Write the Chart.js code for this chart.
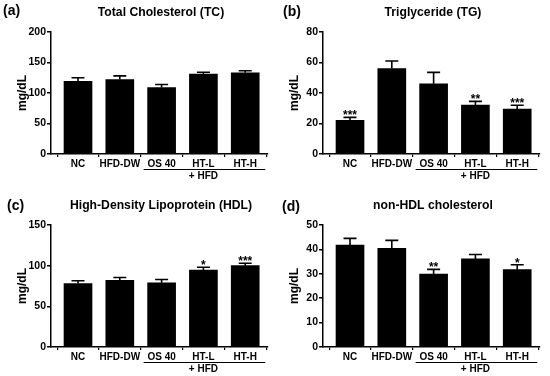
<!DOCTYPE html>
<html>
<head>
<meta charset="utf-8">
<script src="https://cdn.jsdelivr.net/npm/chart.js@4.4.1/dist/chart.umd.min.js"></script>
<style>
  body { margin: 0; background: #fff; }
  #wrap { position: relative; width: 550px; height: 376px; }
  canvas { position: absolute; }
</style>
</head>
<body>
<div id="wrap">
  <canvas id="tc" width="272" height="193" style="left:0;top:0"></canvas>
  <canvas id="tg" width="272" height="193" style="left:272px;top:0"></canvas>
  <canvas id="hdl" width="272" height="193" style="left:0;top:193px"></canvas>
  <canvas id="nonhdl" width="272" height="193" style="left:272px;top:193px"></canvas>
</div>
<script>
var categories = ["NC", "HFD-DW", "OS 40", "HT-L", "HT-H"];
var groupLabel = "+ HFD";

var tcMean = [119, 122, 109, 131, 133];
var tcErr = [6, 6, 5, 3, 3.5];
var tcStars = ["", "", "", "", ""];
var tcTicks = [0, 50, 100, 150, 200];

var tgMean = [22, 56, 46, 32, 29.5];
var tgErr = [2, 5, 7.5, 2.5, 2.5];
var tgStars = ["***", "", "", "**", "***"];
var tgTicks = [0, 20, 40, 60, 80];

var hdlMean = [78, 82, 79, 94.5, 100];
var hdlErr = [3.5, 3.5, 4, 3.5, 3];
var hdlStars = ["", "", "", "*", "***"];
var hdlTicks = [0, 50, 100, 150];

var nonHdlMean = [41.8, 40.4, 29.9, 36.1, 31.7];
var nonHdlErr = [2.7, 3.3, 1.9, 1.8, 2.0];
var nonHdlStars = ["", "", "**", "", "*"];
var nonHdlTicks = [0, 10, 20, 30, 40, 50];

var FONT = '"Liberation Sans", Arial, sans-serif';

// error bars, stars, titles, "+ HFD" bracket
var extras = {
  id: 'extras',
  afterDatasetsDraw: function(chart) {
    var p = chart.options.plugins.extras;
    var ctx = chart.ctx, x = chart.scales.x, y = chart.scales.y;
    ctx.save();
    ctx.strokeStyle = '#000';
    ctx.fillStyle = '#000';
    ctx.lineWidth = 1.6;

    p.mean.forEach(function(m, i) {
      var cx = x.getPixelForValue(i);
      var top = y.getPixelForValue(m + p.err[i]);
      var base = y.getPixelForValue(m);
      ctx.beginPath();
      ctx.moveTo(cx, base);
      ctx.lineTo(cx, top);
      ctx.moveTo(cx - 6.5, top);
      ctx.lineTo(cx + 6.5, top);
      ctx.stroke();
      if (p.stars[i]) {
        ctx.font = 'bold 12px ' + FONT;
        ctx.textAlign = 'center';
        ctx.textBaseline = 'alphabetic';
        ctx.fillText(p.stars[i], cx, top + 2);
      }
    });

    ctx.textBaseline = 'middle';
    ctx.font = 'bold 14px ' + FONT;
    ctx.textAlign = 'left';
    ctx.fillText(p.letter, p.letterX, p.letterY);
    ctx.font = 'bold 12.2px ' + FONT;
    ctx.textAlign = 'center';
    ctx.fillText(p.title, 161, 13);

    ctx.save();
    ctx.translate(22.5, (chart.chartArea.top + chart.chartArea.bottom) / 2);
    ctx.rotate(-Math.PI / 2);
    ctx.font = 'bold 12px ' + FONT;
    ctx.fillText('mg/dL', 0, 0);
    ctx.restore();

    var x1 = x.getPixelForValue(1.57), x2 = x.getPixelForValue(4.48);
    ctx.lineWidth = 1.2;
    ctx.beginPath();
    ctx.moveTo(x1, 169.5);
    ctx.lineTo(x2, 169.5);
    ctx.stroke();
    ctx.font = 'bold 10px ' + FONT;
    ctx.fillText(groupLabel, x.getPixelForValue(3), 176.5);
    ctx.restore();
  }
};

function makeChart(id, mean, err, stars, ticks, title, letter, letterX, letterY) {
  return new Chart(document.getElementById(id), {
    type: 'bar',
    data: {
      datasets: [{
        data: mean.map(function(v, i) { return { x: i, y: v }; }),
        backgroundColor: '#000',
        borderWidth: 0,
        barThickness: 28
      }]
    },
    options: {
      responsive: false,
      animation: false,
      layout: { padding: { top: 32, right: 4, left: 0, bottom: 0 } },
      plugins: {
        legend: { display: false },
        tooltip: { enabled: false },
        extras: {
          mean: mean, err: err, stars: stars, title: title,
          letter: letter, letterX: letterX, letterY: letterY
        }
      },
      scales: {
        x: {
          type: 'linear',
          offset: false,
          min: -0.646,
          max: 4.545,
          afterBuildTicks: function(s) {
            s.ticks = categories.map(function(c, i) { return { value: i }; });
          },
          afterFit: function(s) { s.height = 39; },
          ticks: {
            color: '#000',
            padding: 1.5,
            maxRotation: 0,
            autoSkip: false,
            font: { family: FONT, size: 10, weight: 'bold' },
            callback: function(v) { return categories[v]; }
          },
          grid: { drawOnChartArea: false, drawTicks: true, tickLength: 3, color: '#000', lineWidth: 1.2 },
          border: { display: true, color: '#000', width: 1.5 }
        },
        y: {
          min: 0,
          max: ticks[ticks.length - 1],
          afterBuildTicks: function(s) {
            s.ticks = ticks.map(function(v) { return { value: v }; });
          },
          afterFit: function(s) { s.width = 51; },
          ticks: {
            color: '#000',
            padding: 1,
            font: { family: FONT, size: 10.5, weight: 'bold' }
          },
          grid: { drawOnChartArea: false, drawTicks: true, tickLength: 4, color: '#000', lineWidth: 1.5 },
          border: { display: true, color: '#000', width: 1.5 }
        }
      }
    },
    plugins: [extras]
  });
}

makeChart('tc', tcMean, tcErr, tcStars, tcTicks, 'Total Cholesterol (TC)', '(a)', 3, 11);
makeChart('tg', tgMean, tgErr, tgStars, tgTicks, 'Triglyceride (TG)', '(b)', 11, 12.5);
makeChart('hdl', hdlMean, hdlErr, hdlStars, hdlTicks, 'High-Density Lipoprotein (HDL)', '(c)', 7, 13.5);
makeChart('nonhdl', nonHdlMean, nonHdlErr, nonHdlStars, nonHdlTicks, 'non-HDL cholesterol', '(d)', 10, 14);
</script>
</body>
</html>
